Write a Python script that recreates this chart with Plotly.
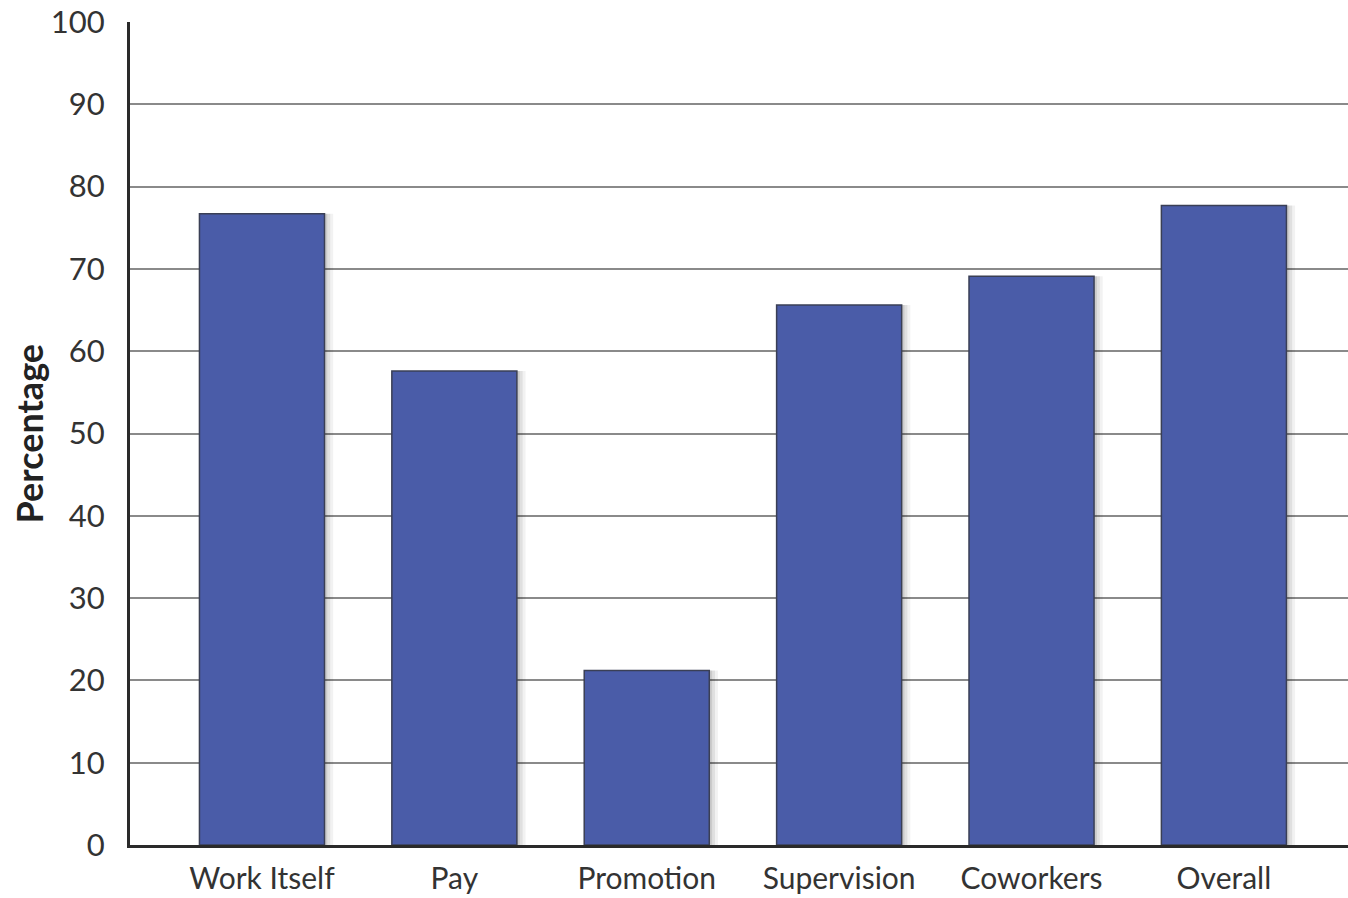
import plotly.graph_objects as go

categories = ["Work Itself", "Pay", "Promotion", "Supervision", "Coworkers", "Overall"]
percentages = [76.7, 57.6, 21.2, 65.6, 69.1, 77.7]
y_ticks = [0, 10, 20, 30, 40, 50, 60, 70, 80, 90, 100]

FONT = "Lato"
BAR_W = 0.65

fig = go.Figure()
# soft shadow layers
for shift, alpha in [(0.045, 0.05), (0.03, 0.07), (0.015, 0.09)]:
    fig.add_trace(go.Bar(
        x=categories,
        y=percentages,
        width=BAR_W,
        offset=-BAR_W / 2 + shift,
        marker=dict(color=f"rgba(0,0,0,{alpha})", line=dict(width=0)),
        showlegend=False,
        hoverinfo="skip",
    ))
fig.add_trace(go.Bar(
    x=categories,
    y=percentages,
    width=BAR_W,
    offset=-BAR_W / 2,
    marker=dict(color="#4A5CA8", line=dict(color="#3a3f55", width=1.5)),
    showlegend=False,
))

fig.update_layout(
    width=1348,
    height=898,
    margin=dict(l=130, r=0, t=22, b=53, autoexpand=False),
    plot_bgcolor="white",
    paper_bgcolor="white",
    barmode="overlay",
    xaxis=dict(
        type="category",
        range=[-0.686, 5.645],
        showline=True,
        linecolor="#2a2a2a",
        linewidth=3,
        showgrid=False,
        ticks="",
        automargin=False,
        ticklabelstandoff=5,
        tickfont=dict(family=FONT, size=30, color="#333333"),
    ),
    yaxis=dict(
        range=[0, 100],
        tickvals=y_ticks,
        showline=True,
        linecolor="#2a2a2a",
        linewidth=3,
        showgrid=True,
        gridcolor="#8a8a8a",
        gridwidth=2,
        zeroline=False,
        ticks="",
        automargin=False,
        ticklabelstandoff=16,
        tickfont=dict(family=FONT, size=31, color="#333333"),
    ),
    annotations=[dict(
        text="<b>Percentage</b>",
        xref="paper", yref="paper",
        x=-0.083, y=0.5,
        xanchor="center", yanchor="middle",
        textangle=-90,
        showarrow=False,
        font=dict(family=FONT, size=36, color="#222222"),
    )],
)

fig.write_html("out.html")
